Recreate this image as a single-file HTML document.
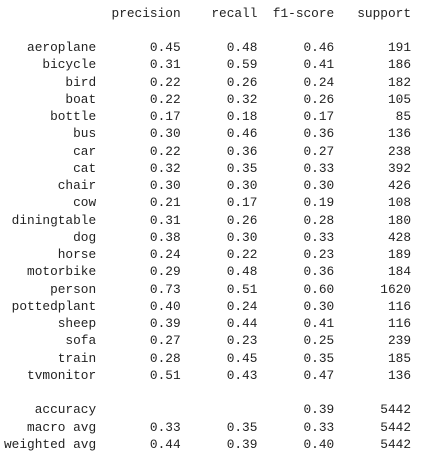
<!DOCTYPE html>
<html><head><meta charset="utf-8">
<style>
html,body{margin:0;padding:0;background:#fff;width:425px;height:451px;overflow:hidden}
pre{margin:0;position:absolute;left:4px;top:4.5px;font-family:"Liberation Mono",monospace;font-size:12.8px;line-height:17.25px;color:#222;white-space:pre}
</style></head>
<body>
<pre id="report"></pre>
<script>
const classes=["aeroplane","bicycle","bird","boat","bottle","bus","car","cat","chair","cow","diningtable","dog","horse","motorbike","person","pottedplant","sheep","sofa","train","tvmonitor"];
const precision=[0.45,0.31,0.22,0.22,0.17,0.30,0.22,0.32,0.30,0.21,0.31,0.38,0.24,0.29,0.73,0.40,0.39,0.27,0.28,0.51];
const recall=[0.48,0.59,0.26,0.32,0.18,0.46,0.36,0.35,0.30,0.17,0.26,0.30,0.22,0.48,0.51,0.24,0.44,0.23,0.45,0.43];
const f1=[0.46,0.41,0.24,0.26,0.17,0.36,0.27,0.33,0.30,0.19,0.28,0.33,0.23,0.36,0.60,0.30,0.41,0.25,0.35,0.47];
const support=[191,186,182,105,85,136,238,392,426,108,180,428,189,184,1620,116,116,239,185,136];
const accuracy=0.39, total=5442;
const macro=[0.33,0.35,0.33], weighted=[0.44,0.39,0.40];
const r=(s,w)=>String(s).padStart(w);
const f=v=>v.toFixed(2);
let lines=[];
lines.push(r("",12)+" "+[" precision","    recall","  f1-score","   support"].join(""));
lines.push("");
for(let i=0;i<classes.length;i++){
  lines.push(r(classes[i],12)+" "+" "+r(f(precision[i]),9)+" "+r(f(recall[i]),9)+" "+r(f(f1[i]),9)+" "+r(support[i],9));
}
lines.push("");
lines.push(r("accuracy",12)+" "+" "+r("",9)+" "+r("",9)+" "+r(f(accuracy),9)+" "+r(total,9));
lines.push(r("macro avg",12)+" "+" "+r(f(macro[0]),9)+" "+r(f(macro[1]),9)+" "+r(f(macro[2]),9)+" "+r(total,9));
lines.push(r("weighted avg",12)+" "+" "+r(f(weighted[0]),9)+" "+r(f(weighted[1]),9)+" "+r(f(weighted[2]),9)+" "+r(total,9));
document.getElementById("report").textContent=lines.join("\n");
</script>
</body></html>
